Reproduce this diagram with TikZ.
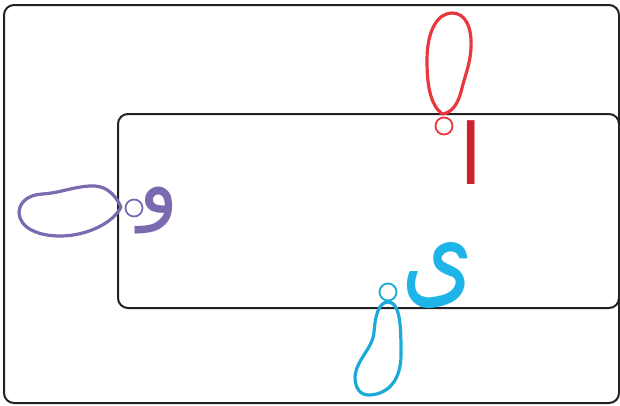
\documentclass[tikz,border=0pt]{standalone}
\usepackage{fontspec}
\newfontfamily\arabicfont[Script=Arabic]{DejaVu Sans}
\TeXXeTstate=1
\definecolor{frame}{HTML}{222222}
\definecolor{redblob}{HTML}{E8383D}
\definecolor{redletter}{HTML}{D0202E}
\definecolor{purpleblob}{HTML}{7B6AB0}
\definecolor{blueblob}{HTML}{1BAAD8}
\definecolor{blueletter}{HTML}{1FB4E8}
\tikzset{
  framebox/.style={draw=frame, line width=2pt, rounded corners=10pt},
  blob/.style={line width=3.2pt, line join=round},
  dot/.style={circle, draw, line width=1.8pt, minimum size=17pt, inner sep=0pt},
  letter/.style={inner sep=0pt, font=\arabicfont\fontsize{84}{84}\selectfont},
}
\begin{document}
\begin{tikzpicture}[x=1pt,y=-1pt]
\useasboundingbox (0,0) rectangle (620,405);
\draw[framebox] (4,5) rectangle (619,403);
\draw[framebox] (118,114) rectangle (619,308);
% red
\draw[blob, draw=redblob] (442,114) .. controls (430,104) and (427,85) .. (427,60)
  .. controls (427,30) and (438,13) .. (452,13)
  .. controls (466,13) and (472,28) .. (471,48)
  .. controls (470,66) and (464,78) .. (461,92)
  .. controls (457,106) and (451,113) .. (442,114) -- cycle;
\node[dot, draw=redblob] (rc) at (444,126) {};
\node[letter, text=redletter] (ra) at (471,153) {\beginR ا\endR};
% purple
\draw[blob, draw=purpleblob] (121,207) .. controls (114,192) and (104,185) .. (90,186)
  .. controls (72,187) and (60,193) .. (42,194)
  .. controls (27,195) and (19,203) .. (19,213)
  .. controls (20,228) and (38,236) .. (60,236)
  .. controls (88,236) and (114,222) .. (121,207) -- cycle;
\node[dot, draw=purpleblob] (pc) at (134,208) {};
\node[letter, text=purpleblob] (pw) at (159,210) {\beginR و\endR};
% blue
\draw[blob, draw=blueblob] (388,302) .. controls (378,302) and (375,318) .. (374,332)
  .. controls (373,348) and (356,360) .. (355,377)
  .. controls (355,390) and (362,395) .. (368,395)
  .. controls (388,395) and (401,380) .. (401,355)
  .. controls (401,330) and (401,302) .. (388,302) -- cycle;
\node[dot, draw=blueblob] (bc) at (388,292) {};
\node[letter, text=blueletter, yscale=1.45, xscale=1.1] (by) at (438,275) {\beginR ى\endR};
\end{tikzpicture}
\end{document}
